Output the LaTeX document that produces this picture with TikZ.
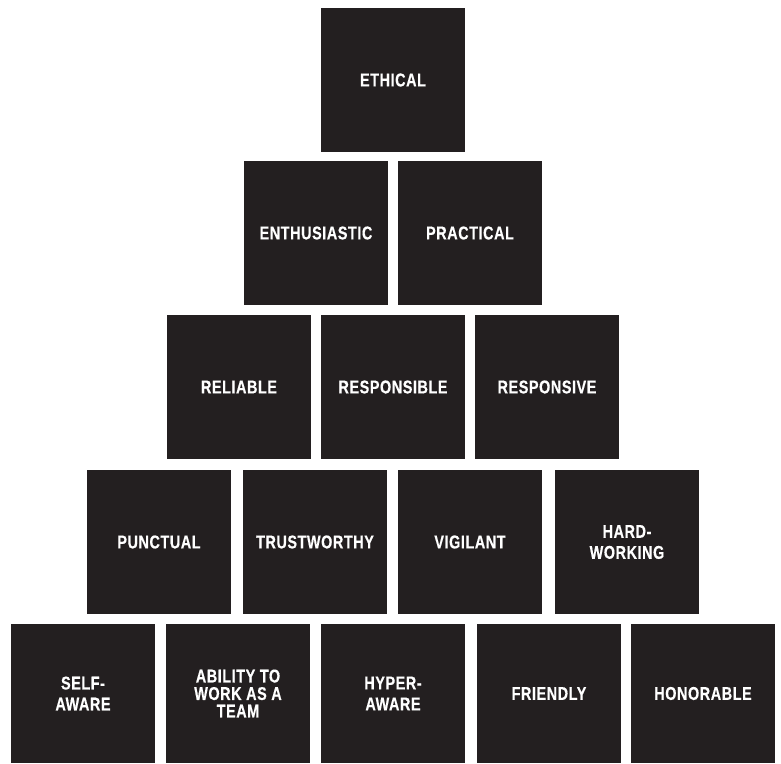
\documentclass[tikz,border=0pt]{standalone}
\usepackage{fontspec}
\setmainfont{Liberation Sans}[FakeStretch=0.78, LetterSpace=3, FakeBold=0.4]
\definecolor{boxfill}{HTML}{231F20}
\begin{document}
\begin{tikzpicture}[x=1pt,y=-1pt,
  tile/.style={fill=boxfill, draw=none, inner sep=0pt, minimum width=144pt, minimum height=144pt,
    text=white, font=\fontsize{18.5}{21}\selectfont\bfseries, align=center},
  lowtile/.style={tile, minimum height=139pt}]
\useasboundingbox[fill=white] (0,0) rectangle (781,763);
\node[tile] (ethical) at (393,80) {ETHICAL};
\node[tile] (enthusiastic) at (316,233) {ENTHUSIASTIC};
\node[tile] (practical) at (470,233) {PRACTICAL};
\node[tile] (reliable) at (239,387) {RELIABLE};
\node[tile] (responsible) at (393,387) {RESPONSIBLE};
\node[tile] (responsive) at (547,387) {RESPONSIVE};
\node[tile] (punctual) at (159,542) {PUNCTUAL};
\node[tile] (trustworthy) at (315,542) {TRUSTWORTHY};
\node[tile] (vigilant) at (470,542) {VIGILANT};
\node[tile] (hardworking) at (627,542) {HARD-\\WORKING};
\node[lowtile] (selfaware) at (83,693.5) {SELF-\\AWARE};
\node[lowtile, font=\fontsize{18.5}{17.5}\selectfont\bfseries] (ability) at (238,693.5) {ABILITY TO\\WORK AS A\\TEAM};
\node[lowtile] (hyperaware) at (393,693.5) {HYPER-\\AWARE};
\node[lowtile] (friendly) at (549,693.5) {FRIENDLY};
\node[lowtile] (honorable) at (703,693.5) {HONORABLE};
\end{tikzpicture}
\end{document}
